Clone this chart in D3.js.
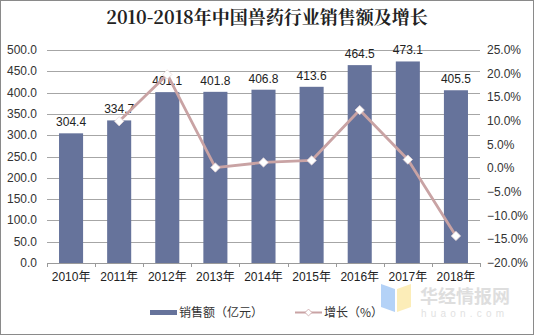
<!DOCTYPE html>
<html>
<head>
<meta charset="utf-8">
<script src="https://cdn.jsdelivr.net/npm/d3@7"></script>
<style>
  html, body { margin: 0; padding: 0; background: #fff; }
  svg { display: block; }
</style>
</head>
<body>
<svg id="chart" width="534" height="335"></svg>
<script>
// Veterinary drug industry sales (100 million yuan) and yearly growth
const years = ["2010年", "2011年", "2012年", "2013年", "2014年", "2015年", "2016年", "2017年", "2018年"];
const sales = [304.4, 334.7, 401.1, 401.8, 406.8, 413.6, 464.5, 473.1, 405.5];
const growth = [null, 9.95, 19.84, 0.17, 1.24, 1.67, 12.31, 1.85, -14.29];
const leftTicks = [0, 50, 100, 150, 200, 250, 300, 350, 400, 450, 500];
const rightTicks = [-20, -15, -10, -5, 0, 5, 10, 15, 20, 25];

const W = 534, H = 335;
const plot = { left: 47, right: 480, top: 50, bottom: 263 };
const sansFont = "Arial, 'Liberation Sans', 'Noto Sans CJK SC', sans-serif";
const barColor = "#66739b";
const lineColor = "#c9a3a4";

const svg = d3.select("#chart");

svg.append("rect")
  .attr("x", 0.5).attr("y", 0.5)
  .attr("width", W - 1).attr("height", H - 1)
  .attr("fill", "#fff").attr("stroke", "#8a8a8a");

const x = d3.scaleBand().domain(years).range([plot.left, plot.right]).paddingInner(0.5).paddingOuter(0.25);
const xc = d3.scaleBand().domain(years).range([plot.left, plot.right]);
const yL = d3.scaleLinear().domain([0, 500]).range([plot.bottom, plot.top]);
const yR = d3.scaleLinear().domain([-20, 25]).range([plot.bottom, plot.top]);

// title
svg.append("text")
  .attr("x", W / 2).attr("y", 24)
  .attr("text-anchor", "middle")
  .attr("font-family", "'Noto Serif CJK SC', 'Noto Sans CJK SC', serif")
  .attr("font-weight", "bold")
  .attr("font-size", 18)
  .attr("fill", "#222")
  .text("2010-2018年中国兽药行业销售额及增长");

// horizontal gridlines
svg.append("g")
  .selectAll("line")
  .data(leftTicks.filter(d => d > 0))
  .join("line")
  .attr("x1", plot.left).attr("x2", plot.right)
  .attr("y1", d => Math.round(yL(d)) + 0.5).attr("y2", d => Math.round(yL(d)) + 0.5)
  .attr("stroke", "#a6a6a6").attr("stroke-width", 1);

// left axis labels
svg.append("g")
  .selectAll("text")
  .data(leftTicks)
  .join("text")
  .attr("x", 37).attr("y", d => yL(d) + 4)
  .attr("text-anchor", "end")
  .attr("font-family", sansFont).attr("font-size", 12).attr("fill", "#333")
  .text(d => d3.format(".1f")(d));

// right axis labels
svg.append("g")
  .selectAll("text")
  .data(rightTicks)
  .join("text")
  .attr("x", 487).attr("y", d => yR(d) + 4)
  .attr("text-anchor", "start")
  .attr("font-family", sansFont).attr("font-size", 12).attr("fill", "#333")
  .text(d => d3.format(".1f")(d) + "%");

// bars
svg.append("g")
  .selectAll("rect")
  .data(years)
  .join("rect")
  .attr("x", d => x(d))
  .attr("width", x.bandwidth())
  .attr("y", (d, i) => yL(sales[i]))
  .attr("height", (d, i) => plot.bottom - yL(sales[i]))
  .attr("fill", barColor);

// bottom axis
const xAxis = d3.axisBottom(xc).tickSize(0).tickPadding(9);
const gx = svg.append("g").attr("transform", `translate(0,${plot.bottom})`).call(xAxis);
gx.select(".domain").remove();
gx.selectAll("text").attr("font-family", sansFont).attr("font-size", 12).attr("fill", "#222");
svg.append("line")
  .attr("x1", plot.left).attr("x2", plot.right)
  .attr("y1", plot.bottom + 0.5).attr("y2", plot.bottom + 0.5)
  .attr("stroke", "#9a9a9a");
svg.append("g")
  .selectAll("line")
  .data(years.concat(["end"]))
  .join("line")
  .attr("x1", (d, i) => Math.round(i < years.length ? xc(d) : plot.right) + 0.5)
  .attr("x2", (d, i) => Math.round(i < years.length ? xc(d) : plot.right) + 0.5)
  .attr("y1", plot.bottom).attr("y2", plot.bottom + 4)
  .attr("stroke", "#9a9a9a");

// value labels
svg.append("g")
  .selectAll("text")
  .data(years)
  .join("text")
  .attr("x", d => xc(d) + xc.bandwidth() / 2)
  .attr("y", (d, i) => yL(sales[i]) - 7)
  .attr("text-anchor", "middle")
  .attr("font-family", sansFont).attr("font-size", 12).attr("fill", "#222")
  .text((d, i) => d3.format(".1f")(sales[i]));

// growth line
const pts = years.map((d, i) => ({ year: d, v: growth[i] })).filter(p => p.v !== null);
const line = d3.line()
  .x(p => xc(p.year) + xc.bandwidth() / 2)
  .y(p => yR(p.v));
svg.append("path")
  .datum(pts)
  .attr("d", line)
  .attr("fill", "none")
  .attr("stroke", lineColor)
  .attr("stroke-width", 2.8)
  .attr("stroke-linejoin", "round");

const diamond = d3.symbol().type(d3.symbolDiamond2).size(55);
svg.append("g")
  .selectAll("path")
  .data(pts)
  .join("path")
  .attr("transform", p => `translate(${xc(p.year) + xc.bandwidth() / 2},${yR(p.v)})`)
  .attr("d", diamond)
  .attr("fill", "#fff")
  .attr("stroke", "#ead9d9")
  .attr("stroke-width", 0.8);

// legend
const lg = svg.append("g");
lg.append("rect").attr("x", 150).attr("y", 310).attr("width", 27).attr("height", 5).attr("fill", barColor);
lg.append("text").attr("x", 179).attr("y", 317)
  .attr("font-family", "'Noto Sans CJK SC', sans-serif").attr("font-size", 12).attr("fill", "#333")
  .text("销售额（亿元）");
lg.append("line").attr("x1", 295).attr("x2", 322).attr("y1", 312.5).attr("y2", 312.5)
  .attr("stroke", lineColor).attr("stroke-width", 2);
lg.append("path").attr("transform", "translate(308.5,312.5)")
  .attr("d", d3.symbol().type(d3.symbolDiamond2).size(30))
  .attr("fill", "#fff").attr("stroke", lineColor).attr("stroke-width", 0.8);
lg.append("text").attr("x", 324).attr("y", 317)
  .attr("font-family", "'Noto Sans CJK SC', sans-serif").attr("font-size", 12).attr("fill", "#333")
  .text("增长（%）");

// site mark
const wm = svg.append("g").attr("opacity", 0.75);
wm.append("path").attr("d", "M381,284 L395,289 L395,312 L381,307 Z").attr("fill", "#9cc3f5");
wm.append("path").attr("d", "M397,289 L411,284 L411,307 L397,312 Z").attr("fill", "#fbe7a1");
wm.append("text").attr("x", 420).attr("y", 303)
  .attr("font-family", "'Noto Sans CJK SC', sans-serif").attr("font-size", 18).attr("font-weight", "bold")
  .attr("fill", "#d4d4d4").text("华经情报网");
wm.append("text").attr("x", 421).attr("y", 317)
  .attr("font-family", sansFont).attr("font-size", 10).attr("letter-spacing", 4.2)
  .attr("fill", "#d8d8d8").text("huaon.com");
</script>
</body>
</html>
